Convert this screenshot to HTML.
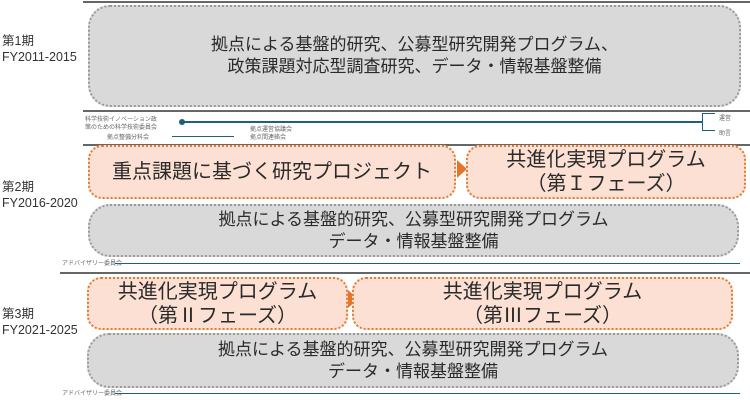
<!DOCTYPE html>
<html><head><meta charset="utf-8"><style>
body{margin:0;width:750px;height:400px;background:#fff;position:relative;overflow:hidden;font-family:"Liberation Sans","Noto Sans CJK JP",sans-serif;color:#333}
.a{position:absolute}
.g{position:absolute;background:#d9d9d9;border:2px dotted #9a9a9a;border-radius:22px;box-sizing:border-box;display:flex;align-items:center;justify-content:center;text-align:center;font-size:17px;line-height:22px;color:#2a2a2a}
.o{position:absolute;background:#fbe0d3;border:2px dotted #e07b32;border-radius:14px;box-sizing:border-box;display:flex;align-items:center;justify-content:center;text-align:center;font-size:20px;line-height:24px;color:#2a2a2a}
.lbl{position:absolute;left:2px;font-size:12.5px;line-height:16px;color:#333}
.ln{position:absolute;height:2px;background:#666}
.bl{position:absolute;height:2px;background:#1f5f7f}
.tiny{position:absolute;font-size:6px;color:#666;line-height:8px}
.tri{position:absolute;width:0;height:0;border-top:9px solid transparent;border-bottom:9px solid transparent;border-left:10px solid #e8742a}
</style></head><body>
<div class="lbl" style="top:33px">第1期<br>FY2011-2015</div>
<div class="lbl" style="top:179px">第2期<br>FY2016-2020</div>
<div class="lbl" style="top:306px">第3期<br>FY2021-2025</div>

<div class="ln" style="left:83px;top:1px;width:667px"></div>
<div class="g" style="left:88px;top:5px;width:653px;height:102px">拠点による基盤的研究、公募型研究開発プログラム、<br>政策課題対応型調査研究、データ・情報基盤整備</div>
<div class="ln" style="left:83px;top:110px;width:667px"></div>
<div class="tiny" style="left:85px;top:116px">科学技術イノベーション政<br>策のための科学技術委員会</div>
<div class="bl" style="left:182px;top:121px;width:520px"></div>
<div class="a" style="left:179px;top:119px;width:6px;height:6px;border-radius:3px;background:#1f5f7f"></div>
<div class="a" style="left:702px;top:113px;width:12px;height:16px;border:1px solid #1f5f7f;border-right:none"></div>
<div class="tiny" style="left:719px;top:115px">運営</div>
<div class="tiny" style="left:719px;top:130px">助言</div>
<div class="tiny" style="left:107px;top:134px">拠点整備分科会</div>
<div class="bl" style="left:172px;top:136px;width:62px;height:1px"></div>
<div class="tiny" style="left:250px;top:126px">拠点運営協議会<br>拠点間連絡会</div>
<div class="ln" style="left:83px;top:144px;width:667px"></div>

<div class="o" style="left:88px;top:145px;width:368px;height:54px">重点課題に基づく研究プロジェクト</div>
<div class="tri" style="left:457px;top:160px"></div>
<div class="o" style="left:466px;top:145px;width:280px;height:54px">共進化実現プログラム<br>（第Ｉフェーズ）</div>
<div class="g" style="left:88px;top:204px;width:651px;height:53px">拠点による基盤的研究、公募型研究開発プログラム<br>データ・情報基盤整備</div>
<div class="tiny" style="left:62px;top:260px">アドバイザリー委員会</div>
<div class="bl" style="left:115px;top:263px;width:625px;height:1px"></div>
<div class="ln" style="left:60px;top:272px;width:690px"></div>

<div class="o" style="left:87px;top:277px;width:261px;height:53px">共進化実現プログラム<br>（第Ⅱフェーズ）</div>
<div class="tri" style="left:348px;top:290px"></div>
<div class="o" style="left:352px;top:277px;width:381px;height:53px">共進化実現プログラム<br>（第Ⅲフェーズ）</div>
<div class="g" style="left:87px;top:333px;width:652px;height:55px">拠点による基盤的研究、公募型研究開発プログラム<br>データ・情報基盤整備</div>
<div class="tiny" style="left:62px;top:390px">アドバイザリー委員会</div>
<div class="bl" style="left:115px;top:393px;width:625px;height:1px"></div>
</body></html>
